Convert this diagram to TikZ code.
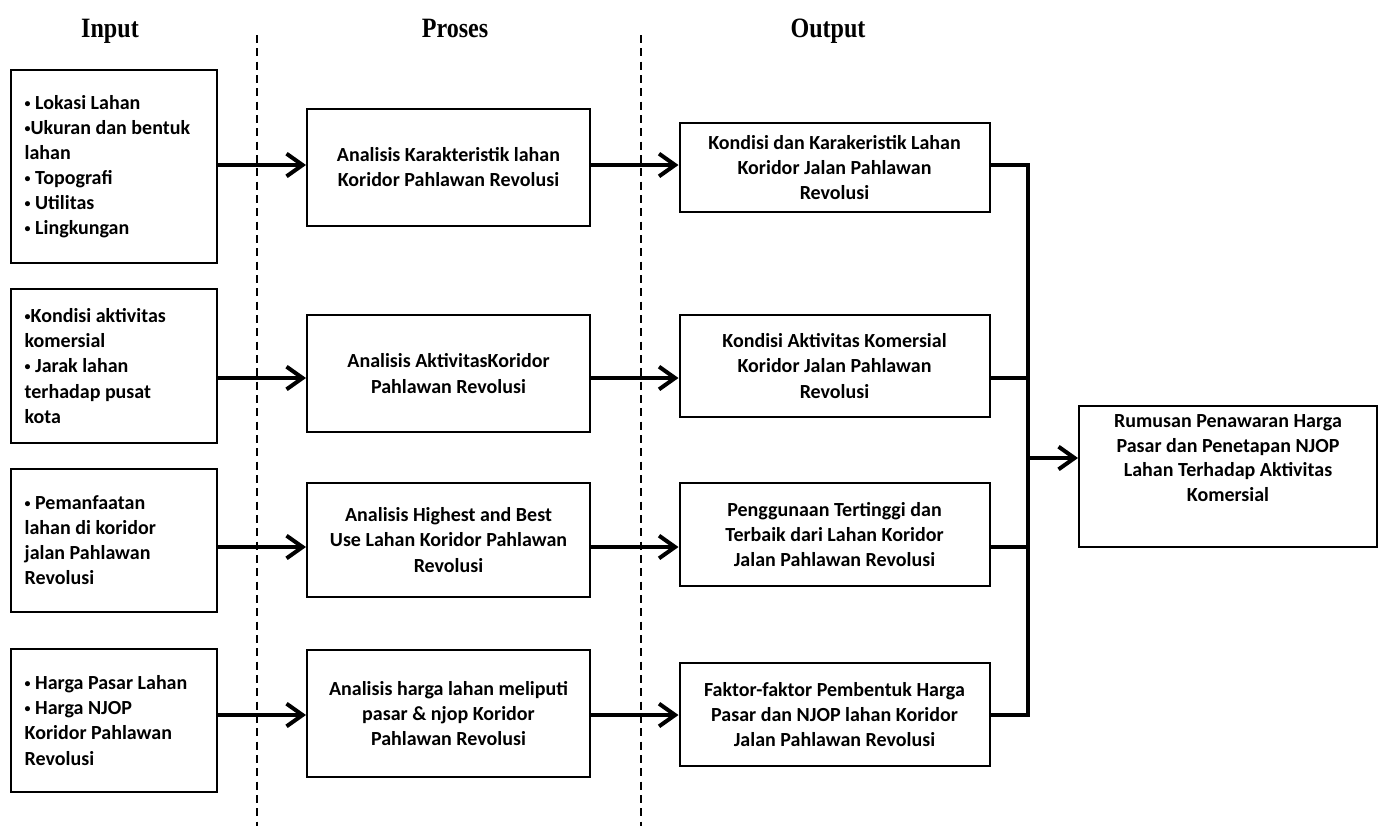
\documentclass[tikz,border=0pt]{standalone}
\usepackage{fontspec}
\setmainfont{Carlito}
\newfontfamily\headfont[FakeStretch=0.86]{Liberation Serif}
\usetikzlibrary{arrows.meta}
\newcommand\blt{{\fontsize{9}{9}\selectfont\raisebox{1.6pt}{•}}}

\begin{document}
\begin{tikzpicture}[x=0.75pt, y=-0.75pt,
    box/.style={draw, line width=1.5pt, inner sep=0pt, align=center,
        font=\bfseries\fontsize{15}{18.8}\selectfont},
    inbox/.style={box, minimum width=154.5pt, text width=134pt, align=flush left},
    probox/.style={box, minimum width=212.25pt},
    outbox/.style={box, minimum width=232.5pt},
    heading/.style={font=\headfont\bfseries\fontsize{21}{24}\selectfont, anchor=base},
    flow/.style={line width=3pt, -{Straight Barb[length=12pt, width=17pt]}},
    feed/.style={line width=3pt, line cap=rect},
    divider/.style={line width=1.2pt, dash pattern=on 6pt off 4pt}]
    \useasboundingbox (0,0) rectangle (1380,826);

    \node[heading] (hin) at (110,37) {Input};
    \node[heading] (hpro) at (455,37) {Proses};
    \node[heading] (hout) at (828,37) {Output};

    \draw[divider] (257,35) -- (257,826);
    \draw[divider] (641,35) -- (641,826);

    \node[inbox, minimum height=144.75pt] (in1) at (114,166.5)
        {\blt{} Lokasi Lahan\\\blt{}Ukuran dan bentuk\\lahan\\\blt{} Topografi\\\blt{} Utilitas\\\blt{} Lingkungan};
    \node[inbox, minimum height=115.5pt] (in2) at (114,366)
        {\blt{}Kondisi aktivitas\\komersial\\\blt{} Jarak lahan\\terhadap pusat\\kota};
    \node[inbox, minimum height=107.25pt] (in3) at (114,540.5)
        {\blt{} Pemanfaatan\\lahan di koridor\\jalan Pahlawan\\Revolusi};
    \node[inbox, minimum height=107.25pt] (in4) at (114,720.5)
        {\blt{} Harga Pasar Lahan\\\blt{} Harga NJOP\\Koridor Pahlawan\\Revolusi};

    \node[probox, minimum height=87.75pt] (pr1) at (448.5,167.5)
        {Analisis Karakteristik lahan\\Koridor Pahlawan Revolusi};
    \node[probox, minimum height=87.75pt] (pr2) at (448.5,373.5)
        {Analisis AktivitasKoridor\\Pahlawan Revolusi};
    \node[probox, minimum height=85.5pt] (pr3) at (448.5,540)
        {Analisis Highest and Best\\Use Lahan Koridor Pahlawan\\Revolusi};
    \node[probox, minimum height=95.25pt] (pr4) at (448.5,713.5)
        {Analisis harga lahan meliputi\\pasar \& njop Koridor\\Pahlawan Revolusi};

    \node[outbox, minimum height=66.75pt] (out1) at (834.5,167.5)
        {Kondisi dan Karakeristik Lahan\\Koridor Jalan Pahlawan\\Revolusi};
    \node[outbox, minimum height=76.5pt] (out2) at (834.5,366)
        {Kondisi Aktivitas Komersial\\Koridor Jalan Pahlawan\\Revolusi};
    \node[outbox, minimum height=77.25pt] (out3) at (834.5,534.5)
        {Penggunaan Tertinggi dan\\Terbaik dari Lahan Koridor\\Jalan Pahlawan Revolusi};
    \node[outbox, minimum height=77.25pt] (out4) at (834.5,714.5)
        {Faktor-faktor Pembentuk Harga\\Pasar dan NJOP lahan Koridor\\Jalan Pahlawan Revolusi};

    \node[box, minimum width=223.5pt, minimum height=105.75pt] (fin) at (1228,476.5) {};
    \node[font=\bfseries\fontsize{15}{18.4}\selectfont, align=center] (fintxt) at (1228,458)
        {Rumusan Penawaran Harga\\Pasar dan Penetapan NJOP\\Lahan Terhadap Aktivitas\\Komersial};

    \coordinate (r1) at (0,165);
    \coordinate (r2) at (0,378);
    \coordinate (r3) at (0,547);
    \coordinate (r4) at (0,715);
    \coordinate (bus) at (1028,458);

    \foreach \i in {1,...,4} {
        \draw[flow] (in\i.east |- r\i) -- (pr\i.west |- r\i);
        \draw[flow] (pr\i.east |- r\i) -- (out\i.west |- r\i);
        \draw[feed] (out\i.east |- r\i) -- (bus |- r\i);
    }
    \draw[feed] (bus |- r1) -- (bus |- r4);
    \draw[flow] (bus) -- (bus -| fin.west);
\end{tikzpicture}
\end{document}
